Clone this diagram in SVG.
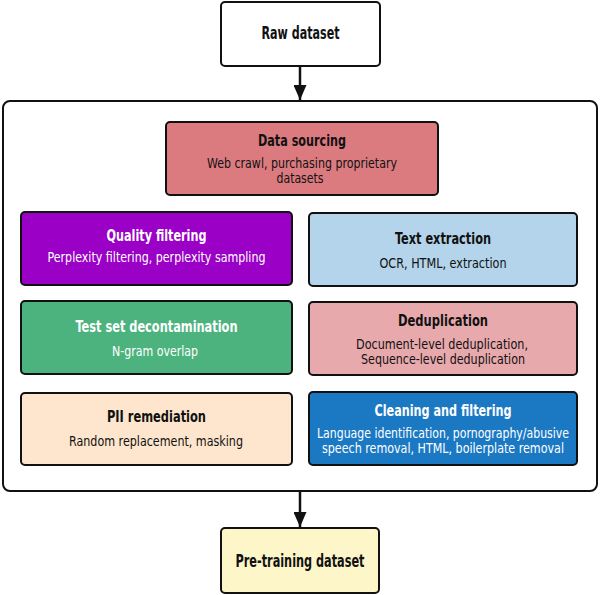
<svg xmlns="http://www.w3.org/2000/svg" width="600" height="595" viewBox="0 0 600 595">
<style>
  .box { stroke: #111; stroke-width: 2; }
  text { font-family: "DejaVu Sans Condensed", "DejaVu Sans", sans-serif; font-stretch: condensed; text-anchor: middle; fill: #111; }
  .t { font-size: 15.5px; font-weight: bold; }
  .big { font-size: 17.5px; font-weight: 600; }
  .s { font-size: 14.5px; }
  .sm { font-size: 13.5px; }
  .w { fill: #fff; }
  .conn { stroke: #111; stroke-width: 2.5; fill: none; }
</style>
<defs>
  <marker id="ah" markerUnits="userSpaceOnUse" markerWidth="16" markerHeight="13" refX="15" refY="6.5" orient="auto">
    <path d="M0,0 L15,6.5 L0,13 Z" fill="#111"/>
  </marker>
</defs>
<rect width="600" height="595" fill="#fff"/>

<g id="container">
  <rect x="3" y="101" width="594" height="390" rx="7" fill="#fff" stroke="#111" stroke-width="2"/>
</g>

<g id="connectors">
  <line class="conn" x1="300" y1="66" x2="300" y2="100" marker-end="url(#ah)"/>
  <line class="conn" x1="300" y1="491" x2="300" y2="527" marker-end="url(#ah)"/>
</g>

<g id="raw-dataset">
  <rect class="box" x="221" y="2" width="159" height="64" rx="4" fill="#fff"/>
  <text class="big" x="300.5" y="39" textLength="78" lengthAdjust="spacingAndGlyphs">Raw dataset</text>
</g>

<g id="data-sourcing">
  <rect class="box" x="166" y="122" width="272" height="73" rx="4" fill="#db7b80"/>
  <text class="t" x="302" y="146" textLength="88" lengthAdjust="spacingAndGlyphs">Data sourcing</text>
  <text class="s" x="302" y="168" textLength="190" lengthAdjust="spacingAndGlyphs">Web crawl, purchasing proprietary</text>
  <text class="s" x="300" y="183" textLength="47" lengthAdjust="spacingAndGlyphs">datasets</text>
</g>

<g id="quality-filtering">
  <rect class="box" x="21" y="212" width="271" height="73" rx="4" fill="#9a00c6"/>
  <text class="t w" x="156.5" y="241" textLength="100" lengthAdjust="spacingAndGlyphs">Quality filtering</text>
  <text class="s w" x="156.5" y="262" textLength="218" lengthAdjust="spacingAndGlyphs">Perplexity filtering, perplexity sampling</text>
</g>

<g id="text-extraction">
  <rect class="box" x="309" y="213" width="268" height="73" rx="4" fill="#b3d4ea"/>
  <text class="t" x="443" y="244" textLength="96" lengthAdjust="spacingAndGlyphs">Text extraction</text>
  <text class="s" x="443" y="268" textLength="127" lengthAdjust="spacingAndGlyphs">OCR, HTML, extraction</text>
</g>

<g id="test-set-decontamination">
  <rect class="box" x="21" y="301" width="271" height="73" rx="4" fill="#4db37e"/>
  <text class="t w" x="156.5" y="332" textLength="162" lengthAdjust="spacingAndGlyphs">Test set decontamination</text>
  <text class="s w" x="155" y="356" textLength="86" lengthAdjust="spacingAndGlyphs">N-gram overlap</text>
</g>

<g id="deduplication">
  <rect class="box" x="309" y="302" width="268" height="73" rx="4" fill="#e8a9ad"/>
  <text class="t" x="443" y="326" textLength="90" lengthAdjust="spacingAndGlyphs">Deduplication</text>
  <text class="s" x="442" y="349" textLength="172" lengthAdjust="spacingAndGlyphs">Document-level deduplication,</text>
  <text class="s" x="443" y="364" textLength="164" lengthAdjust="spacingAndGlyphs">Sequence-level deduplication</text>
</g>

<g id="pii-remediation">
  <rect class="box" x="21" y="393" width="271" height="72" rx="4" fill="#fde6cd"/>
  <text class="t" x="156.5" y="422" textLength="99" lengthAdjust="spacingAndGlyphs">PII remediation</text>
  <text class="s" x="156" y="446" textLength="174" lengthAdjust="spacingAndGlyphs">Random replacement, masking</text>
</g>

<g id="cleaning-and-filtering">
  <rect class="box" x="309" y="392" width="268" height="73" rx="4" fill="#1b79c4"/>
  <text class="t w" x="443" y="416" textLength="137" lengthAdjust="spacingAndGlyphs">Cleaning and filtering</text>
  <text class="sm w" x="443" y="438" textLength="252" lengthAdjust="spacingAndGlyphs">Language identification, pornography/abusive</text>
  <text class="sm w" x="443" y="453" textLength="242" lengthAdjust="spacingAndGlyphs">speech removal, HTML, boilerplate removal</text>
</g>

<g id="pre-training-dataset">
  <rect class="box" x="221" y="528" width="158" height="65" rx="4" fill="#fdf6c8"/>
  <text class="big" x="300" y="567" textLength="129" lengthAdjust="spacingAndGlyphs">Pre-training dataset</text>
</g>
</svg>
